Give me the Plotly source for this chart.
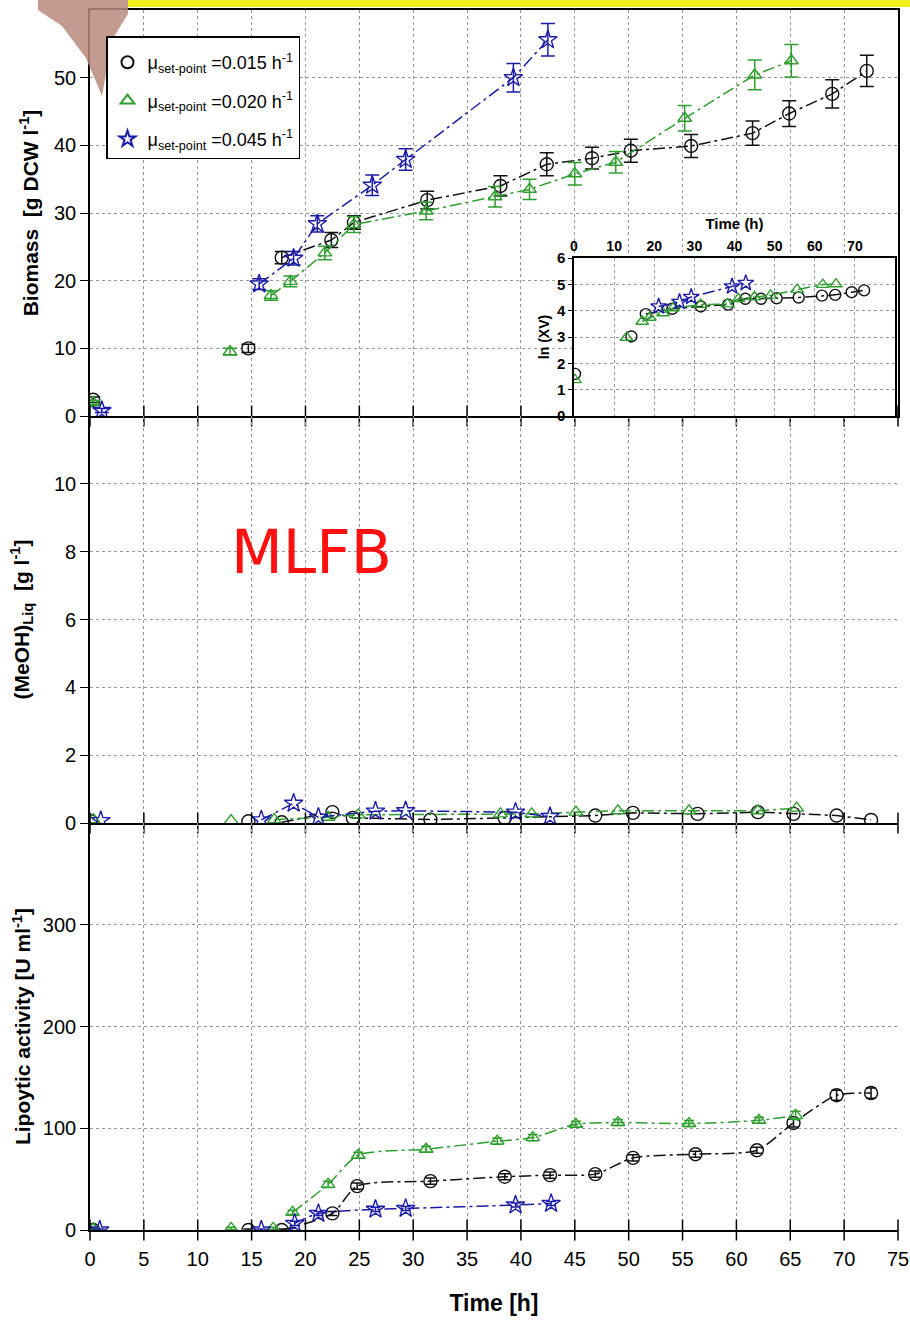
import plotly.graph_objects as go

# ---------------- data ----------------
# Biomass [g DCW/l]
bio_t_015 = [0.3, 14.7, 17.8, 22.4, 24.5, 31.3, 38.1, 42.4, 46.6, 50.2, 55.8, 61.5, 64.9, 68.9, 72.1]
bio_y_015 = [2.4, 10.0, 23.4, 26.0, 28.6, 31.9, 34.0, 37.2, 38.1, 39.2, 39.9, 41.8, 44.7, 47.6, 51.0]
bio_e_015 = [0.4, 0.6, 0.9, 1.1, 1.0, 1.3, 1.5, 1.7, 1.6, 1.7, 1.7, 1.8, 1.9, 2.1, 2.3]

bio_t_020 = [0.3, 13.0, 16.8, 18.6, 21.8, 24.5, 31.2, 37.6, 40.8, 45.0, 48.8, 55.2, 61.7, 65.1]
bio_y_020 = [2.0, 9.5, 17.8, 19.9, 24.1, 28.3, 30.3, 32.4, 33.5, 35.8, 37.5, 44.0, 50.4, 52.5]
bio_e_020 = [0.3, 0.5, 0.7, 0.8, 1.0, 1.2, 1.3, 1.5, 1.5, 1.65, 1.6, 1.9, 2.2, 2.4]

bio_t_045 = [1.1, 15.7, 18.9, 21.1, 26.2, 29.3, 39.3, 42.5]
bio_y_045 = [0.8, 19.5, 23.3, 28.4, 34.1, 37.9, 50.0, 55.6]
bio_e_045 = [0.3, 0.8, 1.0, 1.2, 1.5, 1.6, 2.1, 2.4]

# Inset ln(XV)
ln_t_015 = [0.25, 14.3, 17.9, 24.5, 31.6, 38.4, 42.7, 46.6, 50.5, 56.0, 61.8, 65.1, 69.2, 72.3]
ln_y_015 = [1.60, 3.02, 3.87, 4.07, 4.16, 4.23, 4.45, 4.45, 4.47, 4.50, 4.57, 4.60, 4.70, 4.77]
ln_t_020 = [0.25, 13.1, 17.0, 18.9, 22.2, 24.7, 31.6, 38.2, 41.0, 45.0, 49.0, 55.6, 62.0, 65.3]
ln_y_020 = [1.37, 2.98, 3.59, 3.74, 3.91, 4.10, 4.23, 4.25, 4.45, 4.52, 4.58, 4.80, 4.99, 5.01]
ln_t_045 = [21.1, 26.3, 29.2, 39.4, 42.8]
ln_y_045 = [4.16, 4.33, 4.52, 4.92, 5.05]

# Methanol (liquid) [g/l]
me_t_015 = [0.1, 14.7, 17.8, 22.5, 24.4, 31.6, 38.5, 46.9, 50.4, 56.4, 62.0, 65.3, 69.3, 72.5]
me_y_015 = [0.05, 0.05, 0.02, 0.32, 0.15, 0.10, 0.15, 0.22, 0.30, 0.27, 0.32, 0.27, 0.22, 0.09]
me_t_020 = [0.3, 13.1, 17.1, 22.1, 24.9, 38.1, 41.0, 45.1, 49.0, 55.6, 62.0, 65.6]
me_y_020 = [0.10, 0.07, 0.10, 0.17, 0.24, 0.27, 0.27, 0.32, 0.36, 0.36, 0.36, 0.44]
me_t_045 = [1.0, 15.9, 18.9, 21.2, 26.5, 29.3, 39.5, 42.7]
me_y_045 = [0.07, 0.09, 0.58, 0.17, 0.35, 0.36, 0.32, 0.19]

# Lipolytic activity [U/ml]
li_t_015 = [0.3, 14.7, 17.8, 22.5, 24.8, 31.6, 38.5, 42.7, 46.9, 50.4, 56.2, 61.9, 65.3, 69.3, 72.5]
li_y_015 = [0, 0, 0, 16.3, 43.1, 48.0, 52.3, 53.9, 54.9, 70.9, 74.5, 78.4, 105.2, 132.4, 134.6]
li_e_015 = [1, 1, 1, 2, 3, 3, 3, 3, 3, 3, 3, 3, 4, 5, 5]
li_t_020 = [0.3, 13.1, 17.0, 18.8, 22.1, 24.9, 31.2, 37.8, 41.1, 45.1, 49.0, 55.6, 62.1, 65.5]
li_y_020 = [1, 1.6, 1.6, 17.3, 44.8, 73.5, 79.4, 87.3, 90.8, 103.9, 105.6, 104.6, 107.8, 112.7]
li_e_020 = [1, 1, 1, 2, 3, 3, 3, 3, 3, 3, 3, 3, 3, 4]
li_t_045 = [0.9, 15.9, 19.0, 21.2, 26.5, 29.3, 39.5, 42.8]
li_y_045 = [0, 0, 6.5, 16.3, 20.3, 21.2, 24.5, 26.1]
li_e_045 = [1, 1, 2, 2, 2, 2, 2, 2]

x_ticks = [0, 5, 10, 15, 20, 25, 30, 35, 40, 45, 50, 55, 60, 65, 70, 75]
legend_names = ["μ<sub>set-point</sub> =0.015 h<sup>-1</sup>",
                "μ<sub>set-point</sub> =0.020 h<sup>-1</sup>",
                "μ<sub>set-point</sub> =0.045 h<sup>-1</sup>"]

# ---------------- style ----------------
C_BLK = "#111111"
C_GRN = "#2e9e2e"
C_BLU = "#1c1ca8"
SYM = ["circle-open", "triangle-up-open", "star-open"]
COL = [C_BLK, C_GRN, C_BLU]
DASH = "12px,4px,3px,4px"
FONT = "Liberation Sans, Arial, sans-serif"
NARROW = "Liberation Sans Narrow, Liberation Sans, Arial, sans-serif"

W, H = 910, 1326
L, R, T, B = 90, 12, 10, 96
PW, PH = W - L - R, H - T - B


def px_x(p):
    return (p - L) / PW


def px_y(p):
    return (H - B - p) / PH


fig = go.Figure()


def series(xa, ya, t, y, i, start, err=None, size=12, shape="linear", ew=7):
    fig.add_trace(go.Scatter(x=t[start:], y=y[start:], mode="lines", xaxis=xa, yaxis=ya,
                             line=dict(color=COL[i], width=1.5, dash=DASH, shape=shape,
                                       smoothing=0.7 if shape == "spline" else None),
                             showlegend=False, hoverinfo="skip"))
    kw = {}
    if err is not None:
        kw["error_y"] = dict(type="data", array=err, visible=True, color=COL[i],
                             thickness=1.5, width=ew)
    fig.add_trace(go.Scatter(x=t, y=y, mode="markers", xaxis=xa, yaxis=ya,
                             marker=dict(symbol=SYM[i], size=size, color=COL[i],
                                         line=dict(width=1.4, color=COL[i])),
                             showlegend=False, **kw))


# top panel biomass
series("x", "y", bio_t_015, bio_y_015, 0, 2, bio_e_015, 13)
series("x", "y", bio_t_020, bio_y_020, 1, 2, bio_e_020, 12)
series("x", "y", bio_t_045, bio_y_045, 2, 1, bio_e_045, 14)
# middle panel methanol
series("x2", "y2", me_t_015, me_y_015, 0, 2, None, 13)
series("x2", "y2", me_t_020, me_y_020, 1, 2, None, 12)
series("x2", "y2", me_t_045, me_y_045, 2, 1, None, 14)
# bottom panel lipolytic activity
series("x3", "y3", li_t_015, li_y_015, 0, 2, li_e_015, 13, "spline", 5)
series("x3", "y3", li_t_020, li_y_020, 1, 3, li_e_020, 12, "spline", 5)
series("x3", "y3", li_t_045, li_y_045, 2, 2, li_e_045, 14, "spline", 5)
# inset
series("x4", "y4", ln_t_015, ln_y_015, 0, 2, None, 11)
series("x4", "y4", ln_t_020, ln_y_020, 1, 2, None, 11)
series("x4", "y4", ln_t_045, ln_y_045, 2, 0, None, 12)

# crossing x ticks on each panel axis line
for xa, ya in (("x", "y"), ("x2", "y2"), ("x3", "y3")):
    fig.add_trace(go.Scatter(x=x_ticks, y=[0] * len(x_ticks), mode="markers", xaxis=xa, yaxis=ya,
                             marker=dict(symbol="line-ns", size=15, color="black",
                                         line=dict(width=1.5, color="black")),
                             cliponaxis=False, showlegend=False, hoverinfo="skip"))

# legend entries
for i in range(3):
    fig.add_trace(go.Scatter(x=[None], y=[None], mode="markers", xaxis="x", yaxis="y",
                             name=legend_names[i], legendgroup=f"g{i}",
                             marker=dict(symbol=SYM[i], size=13, color=COL[i],
                                         line=dict(width=1.4, color=COL[i]))))

GRID = dict(showgrid=True, gridcolor="#9a9a9a", griddash="dot", gridwidth=1)
d_top = [px_y(416), 1.0]
d_mid = [px_y(823), px_y(416)]
d_bot = [0.0, px_y(823)]

xbase = dict(range=[0, 75], tickvals=x_ticks, showline=True, linecolor="black", linewidth=1.6,
             zeroline=False, ticks="", automargin=False, **GRID)
ybase = dict(showline=True, linecolor="black", linewidth=1.6, zeroline=False, ticks="outside",
             ticklen=8, tickwidth=1.4, tickcolor="black", automargin=False,
             tickfont=dict(family=FONT, size=20, color="black"), **GRID)

fig.update_layout(
    width=W, height=H, margin=dict(l=L, r=R, t=T, b=B, autoexpand=False),
    paper_bgcolor="white", plot_bgcolor="white",
    font=dict(family=FONT, color="black"),
    xaxis=dict(xbase, anchor="y", showticklabels=False, mirror=True),
    yaxis=dict(ybase, domain=d_top, anchor="x", range=[0, 60], tickvals=[0, 10, 20, 30, 40, 50],
               mirror=True,
               title=dict(text="<b>Biomass  [g DCW l<sup>-1</sup>]</b>", standoff=10,
                          font=dict(family=FONT, size=21))),
    xaxis2=dict(xbase, anchor="y2", matches="x", showticklabels=False),
    yaxis2=dict(ybase, domain=d_mid, anchor="x2", range=[0, 12], tickvals=[0, 2, 4, 6, 8, 10],
                title=dict(text="<b>(MeOH)<sub>Liq</sub>  [g l<sup>-1</sup>]</b>", standoff=19,
                           font=dict(family=FONT, size=21))),
    xaxis3=dict(xbase, anchor="y3", matches="x", showticklabels=True,
                ticks="outside", ticklen=10, tickcolor="rgba(0,0,0,0)",
                tickfont=dict(family=NARROW, size=20, color="black"),
                title=dict(text="<b>Time [h]</b>", standoff=26,
                           font=dict(family=NARROW, size=23))),
    yaxis3=dict(ybase, domain=d_bot, anchor="x3", range=[0, 400], tickvals=[0, 100, 200, 300],
                title=dict(text="<b>Lipoytic activity [U ml<sup>-1</sup>]</b>", standoff=6,
                           font=dict(family=FONT, size=21))),
    xaxis4=dict(domain=[px_x(574), px_x(895)], anchor="y4", side="top", range=[0, 80],
                tickvals=[0, 10, 20, 30, 40, 50, 60, 70], showline=True, mirror=True,
                linecolor="black", linewidth=1.5, zeroline=False, ticks="", automargin=False,
                tickfont=dict(family=FONT, size=14, color="black", weight="bold"),
                title=dict(text="<b>Time (h)</b>", standoff=4, font=dict(family=FONT, size=15)),
                **GRID),
    yaxis4=dict(domain=[px_y(416), px_y(258)], anchor="x4", range=[0, 6],
                tickvals=[0, 1, 2, 3, 4, 5, 6], showline=True, mirror=True,
                linecolor="black", linewidth=1.5, zeroline=False, ticks="outside", ticklen=4,
                tickcolor="black", automargin=False,
                tickfont=dict(family=FONT, size=15, color="black", weight="bold"),
                title=dict(text="<b>ln (XV)</b>", standoff=4, font=dict(family=FONT, size=14)),
                **GRID),
    legend=dict(x=px_x(106), y=px_y(36), xanchor="left", yanchor="top",
                bgcolor="white", bordercolor="black", borderwidth=1.5,
                font=dict(family=FONT, size=18, color="black"), tracegroupgap=12,
                itemsizing="constant", title=dict(text=" ", font=dict(size=5))),
    showlegend=True,
)

# MLFB label
fig.add_annotation(text="MLFB", xref="paper", yref="paper", x=px_x(311), y=px_y(552),
                   xanchor="center", yanchor="middle", showarrow=False,
                   font=dict(family="DejaVu Sans, sans-serif", size=60, color="#ff1010"))

# decorative header strip and corner fragment
fig.add_shape(type="rect", xref="paper", yref="paper", x0=px_x(128), x1=px_x(910),
              y0=px_y(7), y1=px_y(0), fillcolor="#f3ee1c", line=dict(width=0), layer="above")
pts = [(38, 0), (128, 0), (128, 14), (112, 40), (102, 96), (86, 58), (62, 26), (38, 10)]
path = "M " + " L ".join(f"{px_x(a):.4f},{px_y(b):.4f}" for a, b in pts) + " Z"
fig.add_shape(type="path", xref="paper", yref="paper", path=path,
              fillcolor="#b88a7c", opacity=0.85, line=dict(width=0), layer="above")

fig.write_html("out.html", config={"displayModeBar": False},
               post_script="document.body.style.margin='0';")
